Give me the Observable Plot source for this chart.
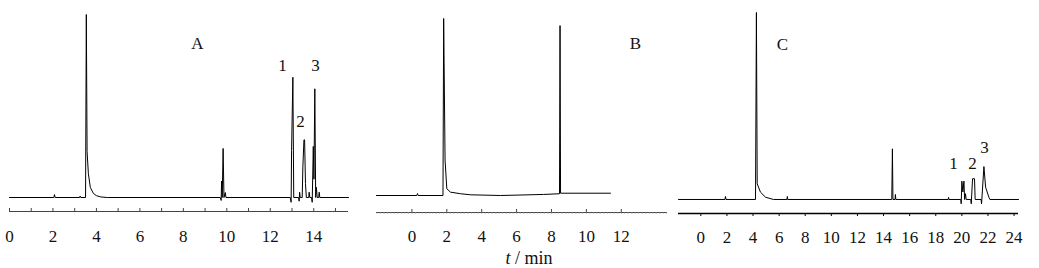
<!DOCTYPE html>
<html>
<head>
<meta charset="utf-8">
<script src="https://cdn.jsdelivr.net/npm/d3@7"></script>
<script src="https://cdn.jsdelivr.net/npm/@observablehq/plot@0.6"></script>
<style>
  html, body { margin: 0; padding: 0; background: #fff; }
  #wrap { position: relative; width: 1039px; height: 268px; overflow: hidden; }
  #wrap svg { position: absolute; left: 0; top: 0; }
  #xlabel { position: absolute; left: 469px; top: 249px; width: 120px; text-align: center; line-height: 1;
            font-family: "Liberation Serif", serif; font-size: 18px; color: #111; }
</style>
</head>
<body>
<div id="wrap"><div id="xlabel"><i>t</i> / min</div></div>
<script>
// ---------- Panel A (retention time, min / relative signal) ----------
const timeA = [0, 2.04, 2.07, 2.10, 3.22, 3.25, 3.28, 3.50, 3.535, 3.57, 3.63, 3.72, 3.86, 4.0, 4.2, 4.5,
  9.70, 9.74, 9.76, 9.79, 9.83, 9.87, 9.93, 9.96,
  12.92, 12.96, 12.98, 13.04, 13.08, 13.30, 13.33, 13.35, 13.38, 13.47, 13.50, 13.55, 13.58, 13.62, 13.66,
  13.77, 13.79, 13.82, 13.90, 13.93, 13.98, 14.01, 14.05, 14.09, 14.12, 14.16, 14.23, 14.25, 14.28, 15.6];
const signalA = [0, 0, 1.6, 0, 0, 0.8, 0, 0, 100, 25, 13, 5.5, 2.2, 1.0, 0.3, 0,
  0, -1.6, 9, 0, 26.8, 0, 2.7, 0,
  0, -2.6, 25.7, 65.7, 0, 0, -2.0, 2.9, 0, 0, 16.6, 31.5, 31.5, 7.7, 0,
  0, 2.9, 0, 0, -2.6, 27.9, 10, 59.4, 0, 5.6, 0, 0, 2.9, 0, 0];
const ticksA = [0, 1, 2, 3, 4, 5, 6, 7, 8, 9, 10, 11, 12, 13, 14, 15];
const tickLabelsA = [0, 2, 4, 6, 8, 10, 12, 14];
const annotTextA = ["A", "1", "2", "3"];
const annotTimeA = [8.65, 12.56, 13.39, 14.08];
const annotSignalA = [84, 72.1, 41.5, 72.1];

// ---------- Panel B ----------
const timeB = [-2.03, 0.28, 0.32, 0.36, 1.78, 1.82, 1.90, 2.0, 2.21, 2.79, 3.36, 5.08, 7.54, 8.46, 8.49, 8.52, 11.38];
const signalB = [0, 0, 1.1, 0, 0, 100, 20, 3.8, 1.9, 1.0, 0.4, 0, 0.6, 1.0, 96, 1.3, 1.3];
const ticksB = [0, 2, 4, 6, 8, 10, 12];
const minorTicksB = d3.range(-2.0, 14.61, 0.2);
const tickLabelsB = [0, 2, 4, 6, 8, 10, 12];
const annotTextB = ["B"];
const annotTimeB = [12.81];
const annotSignalB = [86];

// ---------- Panel C ----------
const timeC = [-1.71, 1.85, 1.89, 1.93, 4.19, 4.26, 4.32, 4.57, 4.96, 5.57, 6.60, 6.63, 6.66,
  14.63, 14.68, 14.72, 14.88, 14.91, 14.94, 18.95, 18.98, 19.01,
  19.92, 19.95, 20.0, 20.08, 20.16, 20.21, 20.28, 20.33, 20.68, 20.72, 20.82, 20.97, 21.02,
  21.47, 21.51, 21.69, 21.82, 22.07, 22.15, 24.34];
const signalC = [0, 0, 1.6, 0, 0, 100, 8.4, 3.9, 1.2, 0, 0, 1.6, 0,
  0, 27.1, 0, 0, 2.7, 0, 0, 1.1, 0,
  0, -2.3, 9.8, 4, 9.8, 0, 3.1, 0, 0, -2.3, 11.1, 11.1, 0,
  0, -2.3, 17.6, 6.6, 1.2, 0, 0];
const ticksC = [0, 2, 4, 6, 8, 10, 12, 14, 16, 18, 20, 22, 24];
const tickLabelsC = [0, 2, 4, 6, 8, 10, 12, 14, 16, 18, 20, 22, 24];
const annotTextC = ["C", "1", "2", "3"];
const annotTimeC = [6.26, 19.36, 20.82, 21.74];
const annotSignalC = [83, 19.3, 19.3, 27.8];

function rows(t, s) { return t.map((v, i) => ({t: v, s: s[i]})); }
function annots(txt, t, s) { return txt.map((v, i) => ({text: v, t: t[i], s: s[i]})); }

function panel(o) {
  const marks = [
    Plot.ruleY([o.yDomain[0]], {stroke: o.axisColor, strokeWidth: o.axisWidth}),
    Plot.axisX(o.ticks, {anchor: "bottom", tickSize: o.tickSize, tickFormat: () => "", stroke: o.axisColor}),
  ];
  if (o.minor) marks.push(Plot.axisX(o.minor, {anchor: "bottom", tickSize: 2, tickFormat: () => "", stroke: "#999", strokeWidth: 0.6}));
  marks.push(
    Plot.axisX(o.labels, {anchor: "bottom", tickSize: 0, tickPadding: o.pad, fontSize: 17, fill: "#111"}),
    Plot.line(o.data, {x: "t", y: "s", stroke: "#000", strokeWidth: 1}),
    Plot.text(o.annot, {x: "t", y: "s", text: "text", fontSize: 17, fill: "#111"})
  );
  return Plot.plot({
    width: 1039, height: 268,
    marginLeft: o.mL, marginRight: o.mR, marginTop: o.mT, marginBottom: o.mB,
    style: {background: "transparent", fontFamily: "'Liberation Serif', serif", fontSize: "17px", overflow: "visible"},
    x: {type: "linear", domain: o.xDomain, label: null},
    y: {domain: o.yDomain, axis: null},
    marks
  });
}

const wrap = document.getElementById("wrap");
wrap.appendChild(panel({
  data: rows(timeA, signalA), annot: annots(annotTextA, annotTimeA, annotSignalA),
  xDomain: [0, 15.6], yDomain: [-7.65, 100], mL: 9, mR: 691, mT: 14, mB: 57,
  ticks: ticksA, labels: tickLabelsA, tickSize: -3, pad: 18, axisColor: "#444", axisWidth: 1
}));
wrap.appendChild(panel({
  data: rows(timeB, signalB), annot: annots(annotTextB, annotTimeB, annotSignalB),
  xDomain: [-2.03, 14.65], yDomain: [-9.6, 100], mL: 376, mR: 372, mT: 18, mB: 56,
  ticks: ticksB, minor: minorTicksB, labels: tickLabelsB, tickSize: -3, pad: 17, axisColor: "#444", axisWidth: 1
}));
wrap.appendChild(panel({
  data: rows(timeC, signalC), annot: annots(annotTextC, annotTimeC, annotSignalC),
  xDomain: [-1.71, 24.34], yDomain: [-7.5, 100], mL: 678, mR: 21, mT: 12, mB: 55,
  ticks: ticksC, labels: tickLabelsC, tickSize: 3, pad: 17, axisColor: "#000", axisWidth: 1.6
}));
</script>
</body>
</html>
